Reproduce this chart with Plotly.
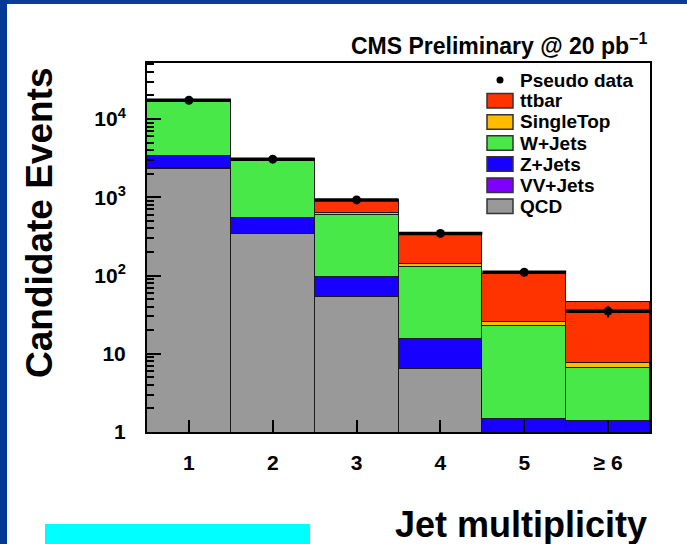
import numpy as np
import plotly.graph_objects as go

# Jet multiplicity bins
bins = [1, 2, 3, 4, 5, 6]
bin_labels = ["1", "2", "3", "4", "5", "\u2265 6"]

# Expected event yields per process (stacked bottom -> top)
qcd = [2330, 335, 53.5, 6.3, 0.4, 0.3]
vv_jets = [4, 1.2, 0.3, 0.08, 0.03, 0.02]
z_jets = [1016, 200, 42.4, 9.0, 1.04, 1.06]
w_jets = [13990, 2449, 504, 114, 21.1, 5.25]
single_top = [25, 25, 36, 11, 3.0, 0.91]
ttbar = [45, 60, 282, 208, 80.4, 37.8]

# Pseudo data
pseudo_data = [17400, 3070, 925, 345, 110, 35]

processes = [
    ("QCD", qcd, "#999999"),
    ("VV+Jets", vv_jets, "#8000FF"),
    ("Z+Jets", z_jets, "#1800FF"),
    ("W+Jets", w_jets, "#48E848"),
    ("SingleTop", single_top, "#FFBB00"),
    ("ttbar", ttbar, "#FF3300"),
]

W, H = 687, 544
L, R, T, B = 147, 650, 63, 432   # plot frame in pixels


def px(x):
    return (x - L) / (R - L)


def py(y):
    return (B - y) / (B - T)


FONT = "Liberation Sans, Arial, Helvetica, sans-serif"
OUTLINE = "#1a1a1a"

fig = go.Figure()

for name, vals, col in processes:
    fig.add_trace(go.Bar(
        x=bins, y=vals, name=name, width=1.0,
        marker=dict(color=col, line=dict(color=OUTLINE, width=1)),
        showlegend=False,
    ))

data_err = np.sqrt(np.array(pseudo_data, dtype=float))
fig.add_trace(go.Scatter(
    x=bins, y=pseudo_data, mode="markers", name="Pseudo data",
    marker=dict(color="black", size=9),
    error_x=dict(type="constant", value=0.5, thickness=3.5, width=0, color="black"),
    error_y=dict(type="data", array=data_err, thickness=2, width=0, color="black"),
    showlegend=False,
))

# minor log ticks
minor_vals = [m * 10 ** d for d in range(0, 5) for m in range(2, 10)]

fig.update_layout(
    width=W, height=H, autosize=False,
    margin=dict(l=L, r=W - R, t=T, b=H - B, pad=0),
    paper_bgcolor="white", plot_bgcolor="white",
    barmode="stack", bargap=0,
    font=dict(family=FONT, color="black", weight="bold"),
    xaxis=dict(
        range=[0.5, 6.5], tickvals=bins, ticktext=bin_labels,
        ticks="inside", ticklen=12, tickwidth=2, tickcolor="black",
        showline=True, linecolor="black", linewidth=2, mirror=True,
        showgrid=False, zeroline=False,
        tickfont=dict(size=21, family=FONT, weight="bold"),
        ticklabelstandoff=11,
    ),
    yaxis=dict(
        type="log", range=[0, np.log10(5.2e4)],
        tickvals=[1, 10, 100, 1000, 10000],
        ticktext=["1", "10", "10<sup>2</sup>", "10<sup>3</sup>", "10<sup>4</sup>"],
        ticks="inside", ticklen=14, tickwidth=2, tickcolor="black",
        minor=dict(tickvals=minor_vals, ticks="inside", ticklen=7,
                   tickwidth=2, tickcolor="black", showgrid=False),
        showline=True, linecolor="black", linewidth=2, mirror=True,
        showgrid=False, zeroline=False,
        tickfont=dict(size=21, family=FONT, weight="bold"),
        ticklabelstandoff=15,
    ),
)

shapes = []
annotations = []

# slide frame: blue band on the left and top, cyan block bottom-left
shapes.append(dict(type="rect", xref="paper", yref="paper", layer="above",
                   x0=px(0), x1=px(W), y0=py(4), y1=py(0),
                   fillcolor="#0B3F96", line=dict(width=0)))
shapes.append(dict(type="rect", xref="paper", yref="paper", layer="above",
                   x0=px(0), x1=px(7), y0=py(H), y1=py(0),
                   fillcolor="#023A94", line=dict(width=0)))
shapes.append(dict(type="rect", xref="paper", yref="paper", layer="above",
                   x0=px(45), x1=px(310), y0=py(H), y1=py(524),
                   fillcolor="#00FFFF", line=dict(width=0)))

# legend
leg_box_x0, leg_box_x1, leg_text_x = 487, 513, 518
leg_y0, leg_step, box_h = 100.8, 21.1, 14.5
shapes.append(dict(type="circle", xref="paper", yref="paper", layer="above",
                   x0=px(496.5), x1=px(503.5), y0=py(83.5), y1=py(76.5),
                   fillcolor="black", line=dict(width=0)))
annotations.append(dict(xref="paper", yref="paper", x=px(leg_text_x), y=py(80.5),
                        text="Pseudo data", showarrow=False, xanchor="left",
                        yanchor="middle", font=dict(size=19, family=FONT, weight="bold")))
for i, (name, vals, col) in enumerate(processes[::-1]):
    yc = leg_y0 + i * leg_step
    shapes.append(dict(type="rect", xref="paper", yref="paper", layer="above",
                       x0=px(leg_box_x0), x1=px(leg_box_x1),
                       y0=py(yc + box_h / 2), y1=py(yc - box_h / 2),
                       fillcolor=col, line=dict(color="#333333", width=1.5)))
    annotations.append(dict(xref="paper", yref="paper", x=px(leg_text_x), y=py(yc),
                            text=name, showarrow=False, xanchor="left",
                            yanchor="middle", font=dict(size=19, family=FONT, weight="bold")))

# titles
annotations.append(dict(xref="paper", yref="paper", x=px(649), y=py(44),
                        text="CMS Preliminary @ 20 pb<sup>\u22121</sup>", showarrow=False,
                        xanchor="right", yanchor="middle",
                        font=dict(size=23, family=FONT, weight="bold")))
annotations.append(dict(xref="paper", yref="paper", x=px(649), y=py(524),
                        text="Jet multiplicity", showarrow=False,
                        xanchor="right", yanchor="middle",
                        font=dict(size=36, family=FONT, weight="bold")))
annotations.append(dict(xref="paper", yref="paper", x=px(39), y=py(223),
                        text="Candidate Events", showarrow=False, textangle=-90,
                        xanchor="center", yanchor="middle",
                        font=dict(size=37, family=FONT, weight="bold")))

fig.update_layout(shapes=shapes, annotations=annotations)

fig.write_html("out.html")
